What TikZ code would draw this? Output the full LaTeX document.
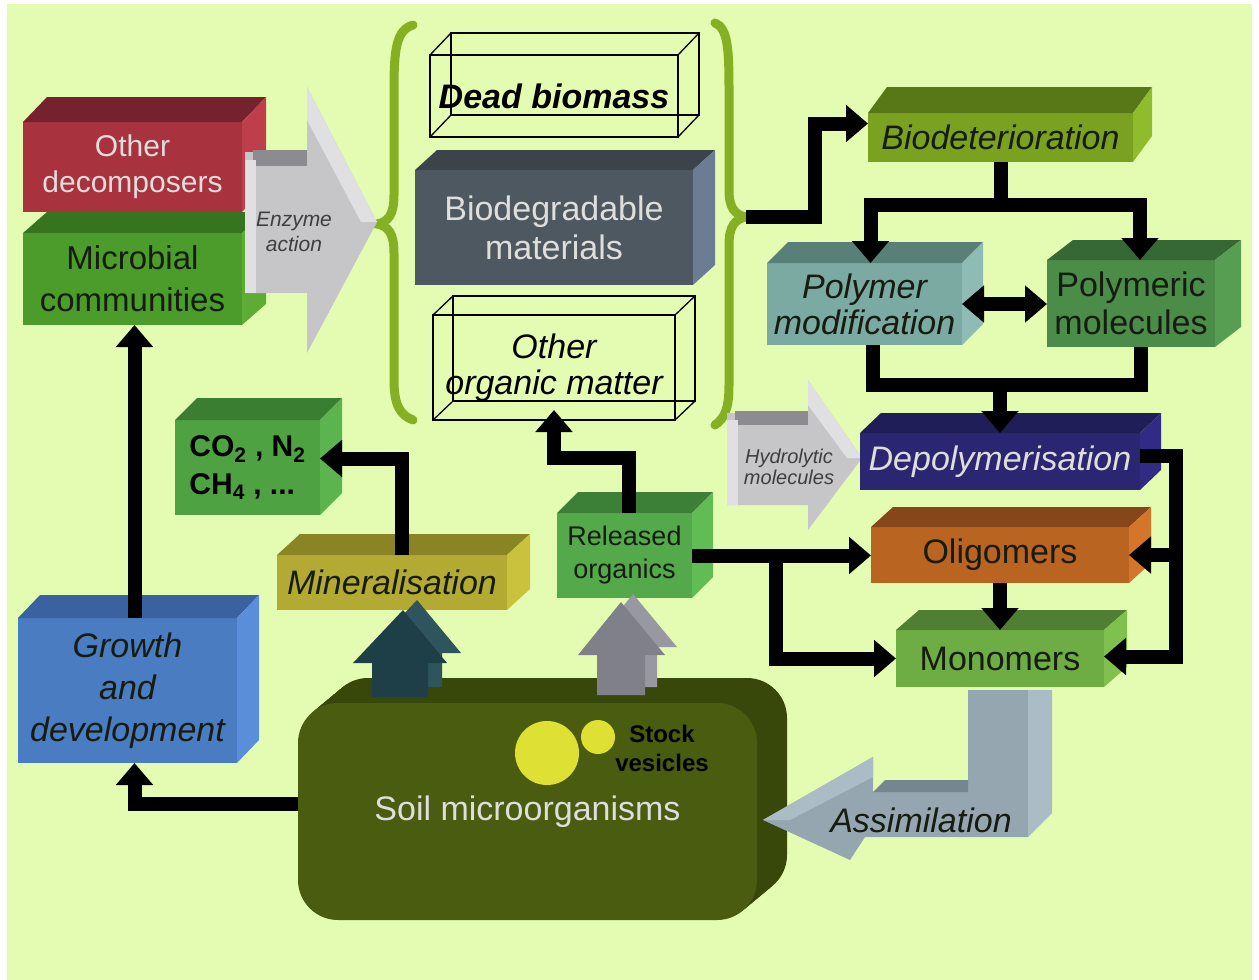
\documentclass[tikz,border=0pt]{standalone}
\usepackage{fontspec}
\setmainfont{Liberation Sans}
\usetikzlibrary{arrows.meta,positioning}

\definecolor{pale}{RGB}{228,252,178}
\definecolor{bracegreen}{RGB}{134,176,36}
\definecolor{txtdark}{RGB}{22,28,16}
\definecolor{txtlight}{RGB}{222,222,218}
\definecolor{txtgray}{RGB}{62,62,62}
\definecolor{odecF}{RGB}{168,50,62}\definecolor{odecT}{RGB}{118,34,44}\definecolor{odecS}{RGB}{190,62,76}
\definecolor{microF}{RGB}{76,156,44}\definecolor{microT}{RGB}{54,116,32}\definecolor{microS}{RGB}{92,172,54}
\definecolor{biodegF}{RGB}{78,88,96}\definecolor{biodegT}{RGB}{58,68,74}\definecolor{biodegS}{RGB}{108,124,146}
\definecolor{biodetF}{RGB}{122,162,32}\definecolor{biodetT}{RGB}{88,120,24}\definecolor{biodetS}{RGB}{142,188,44}
\definecolor{polmodF}{RGB}{122,170,162}\definecolor{polmodT}{RGB}{88,128,120}\definecolor{polmodS}{RGB}{142,188,180}
\definecolor{polmolF}{RGB}{74,140,72}\definecolor{polmolT}{RGB}{54,104,54}\definecolor{polmolS}{RGB}{88,158,82}
\definecolor{depolF}{RGB}{42,38,114}\definecolor{depolT}{RGB}{32,30,88}\definecolor{depolS}{RGB}{48,44,134}
\definecolor{oligoF}{RGB}{186,100,34}\definecolor{oligoT}{RGB}{134,70,26}\definecolor{oligoS}{RGB}{212,118,42}
\definecolor{monoF}{RGB}{110,172,68}\definecolor{monoT}{RGB}{80,126,50}\definecolor{monoS}{RGB}{128,192,78}
\definecolor{co2F}{RGB}{78,162,66}\definecolor{co2T}{RGB}{58,126,50}\definecolor{co2S}{RGB}{92,180,78}
\definecolor{minerF}{RGB}{178,170,50}\definecolor{minerT}{RGB}{138,132,36}\definecolor{minerS}{RGB}{202,194,60}
\definecolor{relorgF}{RGB}{84,170,74}\definecolor{relorgT}{RGB}{60,128,56}\definecolor{relorgS}{RGB}{98,188,86}
\definecolor{growthF}{RGB}{74,124,194}\definecolor{growthT}{RGB}{58,98,160}\definecolor{growthS}{RGB}{90,142,216}
\definecolor{soilF}{RGB}{74,92,16}\definecolor{soilB}{RGB}{56,72,10}
\definecolor{tealF}{RGB}{30,62,72}\definecolor{tealS}{RGB}{46,84,94}
\definecolor{greyF}{RGB}{128,128,138}\definecolor{greyS}{RGB}{152,152,162}
\definecolor{arrowG}{RGB}{198,198,200}\definecolor{arrowL}{RGB}{224,224,226}\definecolor{arrowD}{RGB}{140,140,144}
\definecolor{assimF}{RGB}{150,166,176}\definecolor{assimT}{RGB}{118,134,144}\definecolor{assimS}{RGB}{172,188,198}
\definecolor{vesicle}{RGB}{222,224,52}

\tikzset{
  cube/.style={rectangle, inner sep=0pt, outer sep=0pt, align=center, text=txtdark,
    font=\fontsize{34}{42}\selectfont},
  slanted/.style={font=\fontsize{34}{42}\selectfont\itshape},
  dims/.style 2 args={minimum width=#1pt, minimum height=#2pt},
  wireline/.style={draw=black, line width=1.3pt},
  pipe/.style={draw=black, line width=14pt},
  pipeto/.style={pipe, ->},
  pipeboth/.style={pipe, <->},
  curly/.style={draw=bracegreen, line width=9pt, line cap=round},
  note/.style={align=center, text=txtgray, font=\fontsize{21}{25}\selectfont\itshape},
}

% top and side faces of a box node: node, dx, dy, top colour, side colour
\newcommand{\boxfaces}[5]{%
  \fill[#4] (#1.north west) -- ++(#2,-#3) -- ([shift={(#2,-#3)}]#1.north east) -- (#1.north east) -- cycle;
  \fill[#5] (#1.north east) -- ([shift={(#2,-#3)}]#1.north east) -- ([shift={(#2,-#3)}]#1.south east) -- (#1.south east) -- cycle;
}
% back edges of a see-through box
\newcommand{\boxwire}[3]{%
  \draw[wireline] ([shift={(#2,-#3)}]#1.north west) rectangle ([shift={(#2,-#3)}]#1.south east);
  \foreach \a in {north west,north east,south west,south east}
    \draw[wireline] (#1.\a) -- ([shift={(#2,-#3)}]#1.\a);
}

\begin{document}
\begin{tikzpicture}[x=1pt, y=-1pt, >={Triangle[length=22pt,width=36pt]}, line join=miter]
  \useasboundingbox (0,0) rectangle (1259,980);
  \fill[white] (0,0) rectangle (1259,980);
  \fill[pale] (7,4) rectangle (1252,980);

  % braces round the substrates
  \draw[curly] (413,25) .. controls (396,30) and (394,50) .. (394,90) -- (394,195)
    .. controls (394,215) and (388,222) .. (377,224) .. controls (388,226) and (394,233) .. (394,253)
    -- (394,380) .. controls (394,405) and (400,415) .. (413,420);
  \draw[curly] (715,23) .. controls (728,28) and (729,50) .. (729,90) -- (729,190)
    .. controls (729,208) and (735,215) .. (746,217) .. controls (735,219) and (729,226) .. (729,245)
    -- (729,385) .. controls (729,408) and (725,418) .. (715,425);
  \coordinate (brR) at (746,217);

  % decomposers
  \node[cube, dims={219}{90}, fill=odecF, text=txtlight, font=\fontsize{30}{36}\selectfont] (odec) at (132.5,167) {Other\\decomposers};
  \node[cube, dims={219}{92}, fill=microF, below=21pt of odec, font=\fontsize{33}{42}\selectfont] (micro) {Microbial\\communities};
  \boxfaces{odec}{24}{25}{odecT}{odecS}
  \boxfaces{micro}{24}{21}{microT}{microS}

  % enzyme action
  \fill[arrowG] (245,152) -- (307,152) -- (307,87) -- (377,222) -- (307,353) -- (307,293) -- (245,293) -- cycle;
  \fill[arrowL] (307,87) -- (377,222) -- (361,222) -- (307,120) -- cycle;
  \fill[arrowD] (253,150) rectangle (307,166);
  \fill[arrowL] (245,160) rectangle (256,293);
  \node[note] (enzyme) at (294,232) {Enzyme\\action};

  % substrates
  \node[cube, dims={248}{82}, font=\fontsize{34}{42}\selectfont\bfseries\itshape, text=black, draw=black, line width=1.3pt] (dead) at (554,96) {Dead biomass};
  \boxwire{dead}{21}{22}
  \node[cube, dims={278}{115}, fill=biodegF, text=txtlight, below=33pt of dead, font=\fontsize{34}{39}\selectfont] (biodeg) {Biodegradable\\materials};
  \boxfaces{biodeg}{22}{20}{biodegT}{biodegS}
  \node[cube, dims={242}{105}, slanted, text=black, draw=black, line width=1.3pt, below=30pt of biodeg, font=\fontsize{34}{36}\selectfont\itshape] (other) {Other\\organic matter};
  \boxwire{other}{20}{19}

  % breakdown chain
  \node[cube, dims={265}{49}, fill=biodetF, slanted] (biodet) at (1000.5,137.5) {Biodeterioration};
  \node[cube, dims={195}{82}, fill=polmodF, slanted, font=\fontsize{34}{36}\selectfont\itshape] (polmod) at (864.5,304) {Polymer\\modification};
  \node[cube, dims={168}{87}, fill=polmolF, font=\fontsize{34}{38}\selectfont] (polmol) at (1131,303.5) {Polymeric\\molecules};
  \boxfaces{biodet}{19}{26}{biodetT}{biodetS}
  \boxfaces{polmod}{21}{21}{polmodT}{polmodS}
  \boxfaces{polmol}{26}{20}{polmolT}{polmolS}

  % hydrolytic molecules
  \fill[arrowG] (727,413) -- (808,413) -- (808,380) -- (862,458) -- (808,530) -- (808,505) -- (727,505) -- cycle;
  \fill[arrowL] (808,380) -- (862,458) -- (847,458) -- (808,405) -- cycle;
  \fill[arrowD] (735,411) rectangle (808,425);
  \fill[arrowL] (727,420) rectangle (738,505);
  \node[note, font=\fontsize{20}{21}\selectfont\itshape] (hydro) at (789,467) {Hydrolytic\\molecules};

  \node[cube, dims={280}{57}, fill=depolF, slanted, text=txtlight] (depol) at (1000,461.5) {Depolymerisation};
  \node[cube, dims={258}{56}, fill=oligoF, below=37pt of depol] (oligo) {Oligomers};
  \node[cube, dims={208}{57}, fill=monoF, below=47pt of oligo] (mono) {Monomers};
  \boxfaces{depol}{21}{20}{depolT}{depolS}
  \boxfaces{oligo}{22}{20}{oligoT}{oligoS}
  \boxfaces{mono}{23}{20}{monoT}{monoS}

  % products
  \node[cube, dims={145}{95}, fill=co2F, align=left, text=black, font=\fontsize{30}{38}\selectfont\bfseries] (co2) at (247.5,467.5) {CO\textsubscript{2} , N\textsubscript{2}\\CH\textsubscript{4} , ...};
  \node[cube, dims={230}{55}, fill=minerF, slanted] (miner) at (392,582.5) {Mineralisation};
  \node[cube, dims={135}{85}, fill=relorgF, font=\fontsize{27}{33}\selectfont] (relorg) at (624.5,555.5) {Released\\organics};
  \node[cube, dims={219}{145}, fill=growthF, slanted] (growth) at (127.5,690.5) {Growth\\and\\development};
  \boxfaces{co2}{22}{22}{co2T}{co2S}
  \boxfaces{miner}{23}{21}{minerT}{minerS}
  \boxfaces{relorg}{21}{21}{relorgT}{relorgS}
  \boxfaces{growth}{22}{23}{growthT}{growthS}

  % soil microorganisms
  \foreach \k in {10,9,...,1}
    \fill[soilB, rounded corners=40pt] ({298+3*\k},{703-2.5*\k}) rectangle ++(459,217);
  \node[cube, dims={459}{217}, fill=soilF, rounded corners=40pt, text=txtlight] (soil) at (527.5,811.5) {Soil microorganisms};
  \fill[vesicle] (547,753) circle (32pt);
  \fill[vesicle] (598,737) circle (17pt);
  \node[align=center, text=black, font=\fontsize{24}{29}\selectfont\bfseries] (stock) at (662,748) {Stock\\vesicles};

  % release arrows
  \foreach \dx/\dy/\c in {14/-10/tealS, 0/0/tealF}
    \fill[\c, shift={(\dx,\dy)}] (372,697) -- (372,663) -- (353,663) -- (403,610) -- (447,663) -- (428,663) -- (428,697) -- cycle;
  \foreach \dx/\dy/\c in {12/-8/greyS, 0/0/greyF}
    \fill[\c, shift={(\dx,\dy)}] (597,695) -- (597,655) -- (578,655) -- (621,602) -- (665,655) -- (645,655) -- (645,695) -- cycle;

  % assimilation
  \fill[assimF] (968,690) -- (1028,690) -- (1028,837) -- (865,837) -- (850,860) -- (763,820) -- (873,757) -- (873,792) -- (968,792) -- cycle;
  \fill[assimS] (1028,690) -- (1052,690) -- (1052,813) -- (1028,837) -- cycle;
  \fill[assimT] (873,792) -- (885,780) -- (968,780) -- (968,792) -- cycle;
  \fill[assimS] (873,757) -- (763,820) -- (790,820) -- (873,777) -- cycle;
  \node[slanted, text=txtdark] (assim) at (921,820) {Assimilation};

  % connectors
  \draw[pipeto] (brR) -- ++(69,0) |- ([yshift=14pt]biodet.west);
  \draw[pipeto] (biodet.south) -- ++(0,43) -| ([xshift=6pt]polmod.north);
  \draw[pipeto] (biodet.south) -- ++(0,43) -| ([xshift=9pt]polmol.north);
  \draw[pipeboth] (polmod.east) -- (polmod.east -| polmol.west);
  \coordinate (merge) at (1000,385);
  \draw[pipe] ([xshift=8pt]polmod.south) |- (merge) -| ([xshift=10pt]polmol.south);
  \draw[pipeto] (merge) -- (depol.north);
  \draw[pipeto] ([yshift=6pt]depol.east) -- ++(36,0) |- (oligo.east);
  \draw[pipeto] ([yshift=6pt]depol.east) -- ++(36,0) |- ([yshift=2pt]mono.east);
  \draw[pipeto] (relorg.east) -- (relorg.east -| oligo.west);
  \draw[pipeto] (relorg.east) -- ++(84,0) |- (mono.west);
  \draw[pipeto] (oligo.south) -- (mono.north);
  \draw[pipeto] ([xshift=4pt]relorg.north) -- ++(0,-55) -| ([yshift=10pt]other.south);
  \draw[pipeto] ([xshift=10pt]miner.north) |- ([yshift=9pt]co2.east);
  \draw[pipeto] ([yshift=8pt]soil.west) -| ([xshift=7pt]growth.south);
  \draw[pipeto] ([xshift=7pt]growth.north) -- ([xshift=7pt]growth.north |- micro.south);
\end{tikzpicture}
\end{document}
